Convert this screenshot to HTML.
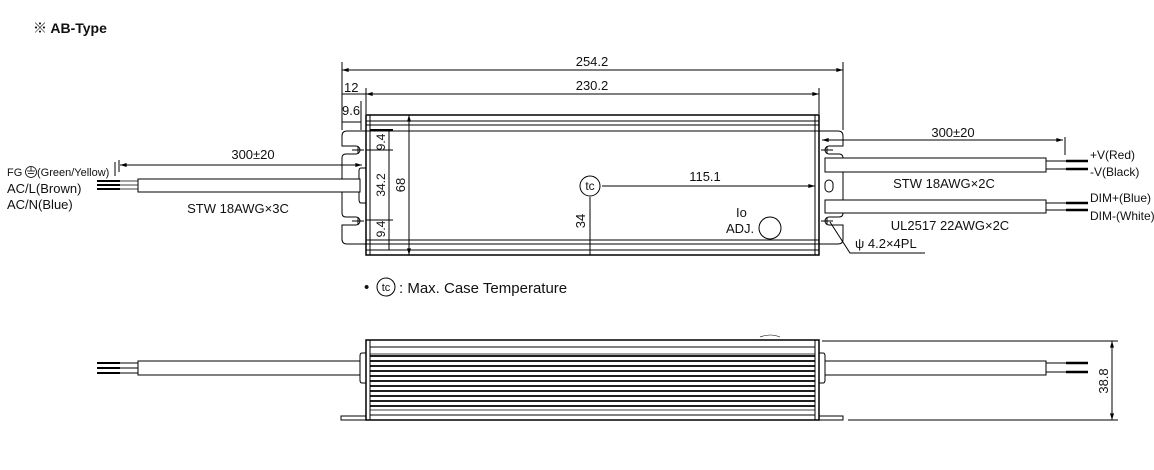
<!DOCTYPE html>
<html><head><meta charset="utf-8"><style>
body{margin:0;background:#fff;}
svg{display:block;font-family:"Liberation Sans","Noto Sans CJK JP",sans-serif;}
text{fill:#111;}
</style></head><body>
<svg width="1154" height="470" viewBox="0 0 1154 470" xmlns="http://www.w3.org/2000/svg">
<defs>
<marker id="a" viewBox="0 0 10 6" refX="10" refY="3" markerWidth="8" markerHeight="4" orient="auto-start-reverse"><path d="M0,0L10,3L0,6z" fill="#000"/></marker>
</defs>
<text x="33" y="33" font-size="14" font-weight="bold">※ AB-Type</text>
<g stroke="#000" stroke-width="1" fill="none">
<line x1="342" y1="62" x2="342" y2="130"/><line x1="843" y1="62" x2="843" y2="130"/>
<line x1="342" y1="70" x2="843" y2="70" marker-start="url(#a)" marker-end="url(#a)"/>
<line x1="366" y1="88" x2="366" y2="114"/><line x1="819" y1="88" x2="819" y2="114"/>
<line x1="366" y1="94" x2="819" y2="94" marker-start="url(#a)" marker-end="url(#a)"/>
<line x1="342" y1="94" x2="366" y2="94"/>
<line x1="342" y1="101" x2="342" y2="125"/><line x1="361" y1="101" x2="361" y2="130"/>
<line x1="342" y1="122" x2="361" y2="122"/>
<rect x="366" y="115" width="453" height="140" stroke-width="1.5"/>
<line x1="370" y1="115" x2="370" y2="255"/><line x1="815" y1="115" x2="815" y2="255"/>
<line x1="366" y1="121" x2="819" y2="121"/><line x1="366" y1="125" x2="819" y2="125"/><line x1="366" y1="131" x2="819" y2="131"/>
<line x1="366" y1="240" x2="819" y2="240"/><line x1="366" y1="244" x2="819" y2="244"/><line x1="366" y1="250" x2="819" y2="250"/>
<line x1="370" y1="130" x2="393" y2="130" stroke-width="2"/>
<!-- left flange -->
<path d="M366,131 H347 Q342,131 342,136 V146 H356 A4,4 0 0 1 356,154 H346 Q342,154 342,158 V213 Q342,217 346,217 H356 A4,4 0 0 1 356,225 H342 V239 Q342,244 347,244 H366"/>
<path d="M352,150 H364 M358,146 V154"/><path d="M352,221 H364 M358,217 V225"/>
<path d="M366,168 H361 Q359,168 359,171 V199 Q359,203 361,203 H366"/>
<!-- right flange -->
<path d="M819,131 H838 Q843,131 843,136 V146 H829 A4,4 0 0 0 829,154 H839 Q843,154 843,158 V213 Q843,217 839,217 H829 A4,4 0 0 0 829,225 H843 V239 Q843,244 838,244 H819"/>
<path d="M821,150 H833 M827,146 V154"/><path d="M821,221 H833 M827,217 V225"/>
<rect x="825" y="180" width="8" height="12" rx="4"/>
<line x1="389" y1="130" x2="389" y2="250"/>
<line x1="366" y1="150" x2="393" y2="150"/><line x1="366" y1="220" x2="393" y2="220"/>
<line x1="409" y1="115" x2="409" y2="255" marker-start="url(#a)" marker-end="url(#a)"/>
<circle cx="590" cy="186" r="10"/>
<line x1="602" y1="186" x2="815" y2="186" marker-end="url(#a)"/>
<line x1="590" y1="197" x2="590" y2="255"/>
<circle cx="770" cy="228" r="11"/>
<rect x="138" y="179" width="222" height="13" fill="#fff"/>
<line x1="119" y1="160" x2="119" y2="172"/>
<line x1="120" y1="165" x2="362" y2="165" marker-start="url(#a)" marker-end="url(#a)"/>
</g>
<g stroke="#000" stroke-width="2">
<line x1="97" y1="181" x2="120" y2="181"/><line x1="97" y1="185" x2="120" y2="185"/><line x1="97" y1="189" x2="120" y2="189"/>
</g>
<g stroke="#000" stroke-width="0.8"><line x1="120" y1="181" x2="138" y2="181"/><line x1="120" y1="185" x2="138" y2="185"/><line x1="120" y1="189" x2="138" y2="189"/></g>
<g stroke="#000" stroke-width="1" fill="none">
<rect x="825" y="158" width="221" height="14" fill="#fff"/>
<rect x="825" y="200" width="221" height="13" fill="#fff"/>
<line x1="1046" y1="161" x2="1066" y2="161"/><line x1="1046" y1="169" x2="1066" y2="169"/>
<line x1="1046" y1="203" x2="1066" y2="203"/><line x1="1046" y1="210" x2="1066" y2="210"/>
<line x1="1065" y1="137" x2="1065" y2="155"/>
<line x1="822" y1="140" x2="1063" y2="140" marker-start="url(#a)" marker-end="url(#a)"/>
<polyline points="830,222 850,253 925,253"/>
</g>
<g stroke="#000" stroke-width="2.5">
<line x1="1066" y1="161" x2="1088" y2="161"/><line x1="1066" y1="169" x2="1088" y2="169"/>
<line x1="1066" y1="203" x2="1088" y2="203"/><line x1="1066" y1="210" x2="1088" y2="210"/>
</g>
<g font-size="13">
<text x="592" y="66" text-anchor="middle">254.2</text>
<text x="592" y="90" text-anchor="middle">230.2</text>
<text x="344" y="92">12</text>
<text x="342" y="115">9.6</text>
<text x="253" y="159" text-anchor="middle">300±20</text>
<text x="953" y="137" text-anchor="middle">300±20</text>
<text x="705" y="181" text-anchor="middle">115.1</text>
<text x="590" y="190" text-anchor="middle" font-size="12">tc</text>
<text x="736" y="217">Io</text>
<text x="726" y="233">ADJ.</text>
<text x="238" y="213" text-anchor="middle">STW 18AWG×3C</text>
<text x="944" y="188" text-anchor="middle">STW 18AWG×2C</text>
<text x="950" y="230" text-anchor="middle">UL2517 22AWG×2C</text>
<text x="855" y="248">ψ 4.2×4PL</text>
<text x="7" y="193">AC/L(Brown)</text>
<text x="7" y="209">AC/N(Blue)</text>
<text x="1090" y="159" font-size="12">+V(Red)</text>
<text x="1090" y="176" font-size="12">-V(Black)</text>
<text x="1090" y="202" font-size="12">DIM+(Blue)</text>
<text x="1090" y="220" font-size="12">DIM-(White)</text>
<text transform="translate(385,142) rotate(-90)" text-anchor="middle" font-size="12">9.4</text>
<text transform="translate(385,185) rotate(-90)" text-anchor="middle" font-size="12">34.2</text>
<text transform="translate(385,229) rotate(-90)" text-anchor="middle" font-size="12">9.4</text>
<text transform="translate(405,185) rotate(-90)" text-anchor="middle">68</text>
<text transform="translate(585,221) rotate(-90)" text-anchor="middle">34</text>
</g>
<text x="7" y="176" font-size="11">FG</text>
<g stroke="#000" fill="none" stroke-width="0.8"><circle cx="31" cy="172" r="5.5"/><line x1="27" y1="171" x2="35" y2="171"/><line x1="28" y1="173.5" x2="34" y2="173.5"/><line x1="31" y1="166.5" x2="31" y2="171"/></g>
<text x="37" y="176" font-size="11">(Green/Yellow)</text>
<line x1="115" y1="162" x2="115" y2="176" stroke="#000"/>
<text x="364" y="292" font-size="15">•</text>
<circle cx="386" cy="287" r="9" stroke="#000" fill="none"/>
<text x="386" y="291" font-size="11" text-anchor="middle">tc</text>
<text x="399" y="293" font-size="15">: Max. Case Temperature</text>
<g stroke="#000" fill="none" stroke-width="1">
<rect x="366" y="340" width="453" height="80" stroke-width="1.5"/>
<line x1="370" y1="340" x2="370" y2="420"/><line x1="815" y1="340" x2="815" y2="420"/>
<line x1="370" y1="347" x2="815" y2="347"/>
<line x1="370" y1="415" x2="815" y2="415"/>
<rect x="341" y="416" width="25" height="4"/><rect x="819" y="416" width="24" height="4"/>
<line x1="848" y1="420" x2="1118" y2="420"/>
<line x1="822" y1="341" x2="1118" y2="341"/>
<line x1="1112" y1="341" x2="1112" y2="420" marker-start="url(#a)" marker-end="url(#a)"/>
<rect x="138" y="361" width="222" height="14" fill="#fff"/>
<rect x="825" y="361" width="221" height="14"/>
<path d="M366,353 H362 Q360,353 360,356 V380 Q360,383 362,383 H366"/>
<path d="M819,353 H823 Q825,353 825,356 V380 Q825,383 823,383 H819"/>
<line x1="1046" y1="363" x2="1066" y2="363"/><line x1="1046" y1="372" x2="1066" y2="372"/>
<line x1="120" y1="363" x2="138" y2="363"/><line x1="120" y1="368" x2="138" y2="368"/><line x1="120" y1="373" x2="138" y2="373"/>
<path d="M760,337 Q770,333 780,337" stroke-width="0.6"/>
</g>
<g stroke="#000" stroke-width="2">
<line x1="97" y1="363" x2="120" y2="363"/><line x1="97" y1="368" x2="120" y2="368"/><line x1="97" y1="373" x2="120" y2="373"/>
<line x1="1066" y1="363" x2="1088" y2="363" stroke-width="2.5"/><line x1="1066" y1="372" x2="1088" y2="372" stroke-width="2.5"/>
</g>
<g stroke="#000" stroke-width="1.8">
<line x1="370" y1="356" x2="815" y2="356"/><line x1="370" y1="361" x2="815" y2="361"/><line x1="370" y1="366" x2="815" y2="366"/><line x1="370" y1="371" x2="815" y2="371"/><line x1="370" y1="376" x2="815" y2="376"/><line x1="370" y1="381" x2="815" y2="381"/><line x1="370" y1="386" x2="815" y2="386"/><line x1="370" y1="391" x2="815" y2="391"/><line x1="370" y1="396" x2="815" y2="396"/><line x1="370" y1="401" x2="815" y2="401"/><line x1="370" y1="406" x2="815" y2="406"/>
</g>
<g stroke="#000" stroke-width="0.8">
<line x1="370" y1="354" x2="815" y2="354"/><line x1="370" y1="410" x2="815" y2="410"/>
</g>
<text transform="translate(1108,381) rotate(-90)" text-anchor="middle" font-size="13">38.8</text>
</svg>
</body></html>
